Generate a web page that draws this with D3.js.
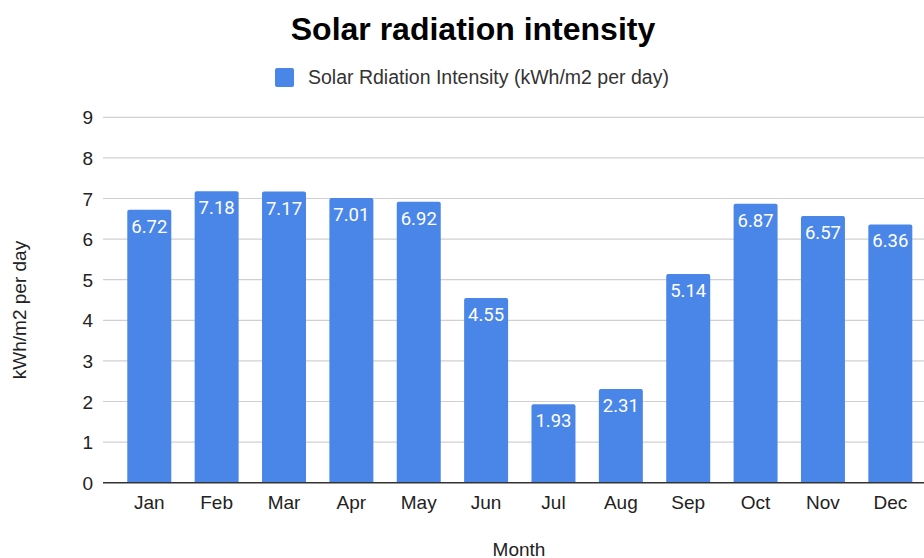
<!DOCTYPE html>
<html>
<head>
<meta charset="utf-8">
<script src="https://cdn.jsdelivr.net/npm/d3@7"></script>
<style>
  body { margin: 0; background: #fff; }
  svg { display: block; }
</style>
</head>
<body>
<div id="graphic"></div>
<script>
const months = ["Jan", "Feb", "Mar", "Apr", "May", "Jun", "Jul", "Aug", "Sep", "Oct", "Nov", "Dec"]
const intensity = [6.72, 7.18, 7.17, 7.01, 6.92, 4.55, 1.93, 2.31, 5.14, 6.87, 6.57, 6.36]
const yTicks = [0, 1, 2, 3, 4, 5, 6, 7, 8, 9]

const seriesName = "Solar Rdiation Intensity (kWh/m2 per day)"
const barColor = "#4a86e8"

const W = 924, H = 558
const plotLeft = 103, plotRight = 924, plotTop = 117.3, plotBottom = 482.7
const labelFont = "Liberation Sans, Arial"

const svg = d3.select("#graphic")
    .append("svg")
    .attr("width", W)
    .attr("height", H)

const x = d3.scaleBand()
    .domain(months)
    .range([115.6, 924])
    .paddingInner(0.347)
    .paddingOuter(0.1735)

const y = d3.scaleLinear()
    .domain([0, 9])
    .range([plotBottom, plotTop])

// title
svg.append("text")
    .attr("x", 473)
    .attr("y", 40)
    .attr("text-anchor", "middle")
    .style("font-family", labelFont)
    .style("font-weight", "bold")
    .style("font-size", "32px")
    .style("fill", "#000")
    .text("Solar radiation intensity")

// legend
svg.append("rect")
    .attr("x", 275)
    .attr("y", 68)
    .attr("width", 19)
    .attr("height", 19)
    .attr("rx", 2)
    .attr("fill", barColor)
svg.append("text")
    .attr("x", 308)
    .attr("y", 84)
    .style("font-family", labelFont)
    .style("font-size", "19.5px")
    .style("fill", "#333")
    .text(seriesName)

// gridlines
svg.append("g")
    .selectAll("line")
    .data(yTicks.filter(d => d > 0))
    .join("line")
    .attr("x1", plotLeft)
    .attr("x2", plotRight)
    .attr("y1", d => y(d))
    .attr("y2", d => y(d))
    .attr("stroke", "#d0d0d0")
    .attr("stroke-width", 1.2)

// y tick labels
svg.append("g")
    .selectAll("text")
    .data(yTicks)
    .join("text")
    .attr("x", 93)
    .attr("y", d => y(d) + 7)
    .attr("text-anchor", "end")
    .style("font-family", labelFont)
    .style("font-size", "19px")
    .style("fill", "#222")
    .text(d => d)

// bars
svg.append("g")
    .selectAll("path")
    .data(intensity)
    .join("path")
    .attr("fill", barColor)
    .attr("d", (d, i) => {
        const x0 = x(months[i]), w = x.bandwidth(), y0 = y(d), y1 = y(0), r = 2
        return `M${x0},${y1}V${y0 + r}Q${x0},${y0} ${x0 + r},${y0}H${x0 + w - r}Q${x0 + w},${y0} ${x0 + w},${y0 + r}V${y1}Z`
    })

// value labels
svg.append("g")
    .selectAll("text")
    .data(intensity)
    .join("text")
    .attr("x", (d, i) => x(months[i]) + x.bandwidth() / 2)
    .attr("y", d => y(d) + 23)
    .attr("text-anchor", "middle")
    .style("font-family", "Roboto")
    .style("font-size", "18.5px")
    .style("fill", "#fff")
    .text(d => d.toFixed(2))

// baseline
svg.append("line")
    .attr("x1", plotLeft)
    .attr("x2", plotRight)
    .attr("y1", y(0))
    .attr("y2", y(0))
    .attr("stroke", "#333")
    .attr("stroke-width", 1.5)

// x tick labels
svg.append("g")
    .selectAll("text")
    .data(months)
    .join("text")
    .attr("x", d => x(d) + x.bandwidth() / 2)
    .attr("y", 509)
    .attr("text-anchor", "middle")
    .style("font-family", labelFont)
    .style("font-size", "19px")
    .style("fill", "#222")
    .text(d => d)

// axis titles
svg.append("text")
    .attr("x", 519)
    .attr("y", 556)
    .attr("text-anchor", "middle")
    .style("font-family", labelFont)
    .style("font-size", "19px")
    .style("fill", "#222")
    .text("Month")

svg.append("text")
    .attr("transform", "translate(26,310) rotate(-90)")
    .attr("text-anchor", "middle")
    .style("font-family", labelFont)
    .style("font-size", "19px")
    .style("fill", "#222")
    .text("kWh/m2 per day")
</script>
</body>
</html>
